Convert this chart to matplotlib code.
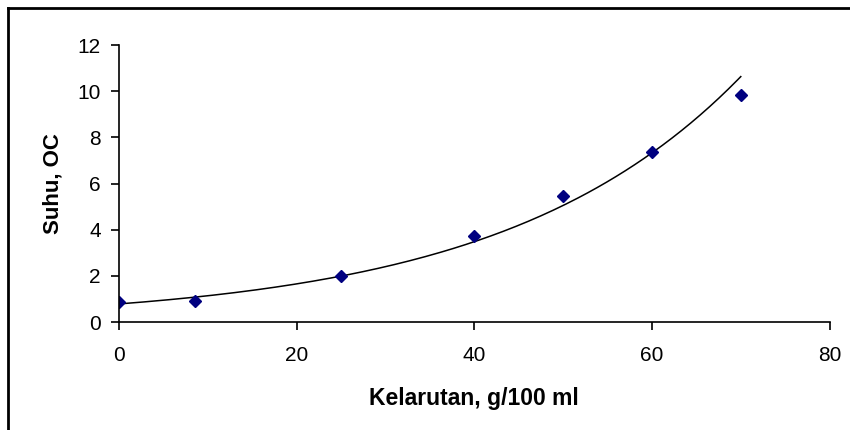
import numpy as np
import matplotlib.pyplot as plt
from matplotlib.lines import Line2D

plt.rcParams['font.family'] = ['Liberation Sans', 'DejaVu Sans']

# data
kelarutan = np.array([0, 8.5, 25, 40, 50, 60, 70])
suhu = np.array([0.85, 0.93, 2.0, 3.72, 5.45, 7.35, 9.85])

# exponential trendline (fit on log y, like Excel)
b, ln_a = np.polyfit(kelarutan, np.log(suhu), 1)
xs = np.linspace(kelarutan.min(), kelarutan.max(), 200)
ys = np.exp(ln_a) * np.exp(b * xs)

fig = plt.figure(figsize=(8.5, 4.3), dpi=100)
ax = fig.add_axes([0.14, 0.251, 0.836, 0.644])

ax.plot(xs, ys, color='black', lw=1.1)
ax.plot(kelarutan, suhu, linestyle='none', marker='D', color='#000080', markersize=6.5)

ax.set_xlim(0, 80)
ax.set_ylim(0, 12)
ax.set_xticks([0, 20, 40, 60, 80])
ax.set_yticks([0, 2, 4, 6, 8, 10, 12])
ax.spines['top'].set_visible(False)
ax.spines['right'].set_visible(False)
for s in ['left', 'bottom']:
    ax.spines[s].set_linewidth(1.2)
ax.tick_params(direction='out', length=6, width=1.2, labelsize=15)
ax.tick_params(axis='x', pad=11)
ax.tick_params(axis='y', pad=7)

ax.set_xlabel('Kelarutan, g/100 ml', fontsize=16.5, fontweight='bold', labelpad=16)
ax.set_ylabel('Suhu, OC', fontsize=16, fontweight='bold', labelpad=10)

# outer chart frame (only top and left edges show)
fig.add_artist(Line2D([8 / 850, 1], [1 - 8 / 430, 1 - 8 / 430], color='black', lw=2, transform=fig.transFigure))
fig.add_artist(Line2D([8 / 850, 8 / 850], [0, 1 - 8 / 430], color='black', lw=2, transform=fig.transFigure))

fig.savefig('out.png', dpi=100)
